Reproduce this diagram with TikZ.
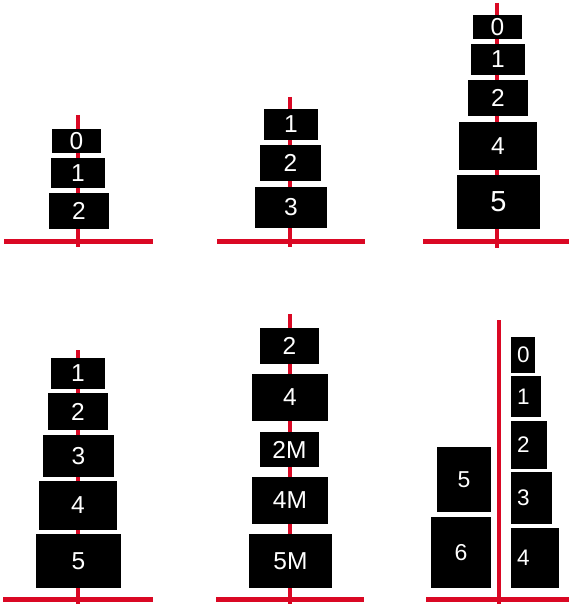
\documentclass[tikz,border=0pt]{standalone}
\usepackage{fontspec}
\setmainfont{Liberation Sans}
\definecolor{rodred}{RGB}{218,8,36}

\begin{document}
\begin{tikzpicture}[x=1pt, y=-1pt,
        disk/.style={rectangle, fill=black, text=white, inner sep=0pt, font=\fontsize{24.5}{24.5}\selectfont},
        sdisk/.style={disk, anchor=west, align=left, inner xsep=6pt, font=\fontsize{22.5}{22.5}\selectfont},
        rod/.style={draw=rodred, line width=4pt},
        base/.style={draw=rodred, line width=5pt}]

        \useasboundingbox (0,0) rectangle (569,604);

        % rods and bases
        \draw [rod] (78,115) -- (78,247);
        \draw [base] (4,241) -- (153,241);
        \draw [rod] (290,97) -- (290,247);
        \draw [base] (217,241) -- (365,241);
        \draw [rod] (497,3) -- (497,248);
        \draw [base] (423,241) -- (569,241);
        \draw [rod] (78,350) -- (78,604);
        \draw [base] (3,599) -- (153,599);
        \draw [rod] (290,314) -- (290,604);
        \draw [base] (216,599) -- (364,599);
        \draw [rod] (499,320) -- (499,604);
        \draw [base] (426,599) -- (569,599);

        % top left
        \node (a0) [disk, minimum width=49, minimum height=24] at (76.5,141) {0};
        \node (a1) [disk, minimum width=54, minimum height=30] at (78,173) {1};
        \node (a2) [disk, minimum width=60, minimum height=36] at (79,211) {2};

        % top middle
        \node (b1) [disk, minimum width=54, minimum height=31] at (291,124.5) {1};
        \node (b2) [disk, minimum width=61, minimum height=36] at (290.5,163) {2};
        \node (b3) [disk, minimum width=72, minimum height=41] at (291,207.5) {3};

        % top right
        \node (c0) [disk, minimum width=49, minimum height=24] at (497.5,27) {0};
        \node (c1) [disk, minimum width=54, minimum height=31] at (498,59.5) {1};
        \node (c2) [disk, minimum width=60, minimum height=36] at (498,98) {2};
        \node (c4) [disk, minimum width=78, minimum height=48] at (498,146) {4};
        \node (c5) [disk, minimum width=83, minimum height=54, font=\fontsize{29}{29}\selectfont] at (498.5,202) {5};

        % bottom left
        \node (d1) [disk, minimum width=54, minimum height=31] at (78,373.5) {1};
        \node (d2) [disk, minimum width=60, minimum height=37] at (78,411.5) {2};
        \node (d3) [disk, minimum width=71, minimum height=42] at (78.5,456) {3};
        \node (d4) [disk, minimum width=78, minimum height=49] at (78,505.5) {4};
        \node (d5) [disk, minimum width=85, minimum height=54] at (78.5,561) {5};

        % bottom middle
        \node (e2) [disk, minimum width=59, minimum height=36] at (289.5,346) {2};
        \node (e4) [disk, minimum width=76, minimum height=47] at (290,397.5) {4};
        \node (e2M) [disk, minimum width=59, minimum height=35] at (289.5,449.5) {2M};
        \node (e4M) [disk, minimum width=76, minimum height=47] at (290,500.5) {4M};
        \node (e5M) [disk, minimum width=83, minimum height=54] at (290.5,561) {5M};

        % bottom right
        \node (f5) [disk, minimum width=54, minimum height=65, font=\fontsize{23}{23}\selectfont] at (464,479.5) {5};
        \node (f6) [disk, minimum width=60, minimum height=71, font=\fontsize{23}{23}\selectfont] at (461,552.5) {6};
        \node (g0) [sdisk, text width=12, minimum height=36] at (511,355) {0};
        \node (g1) [sdisk, text width=18, minimum height=41] at (511,396.5) {1};
        \node (g2) [sdisk, text width=24, minimum height=48] at (511,445) {2};
        \node (g3) [sdisk, text width=29, minimum height=52] at (511,498) {3};
        \node (g4) [sdisk, text width=36, minimum height=60] at (511,558) {4};
    \end{tikzpicture}
\end{document}
